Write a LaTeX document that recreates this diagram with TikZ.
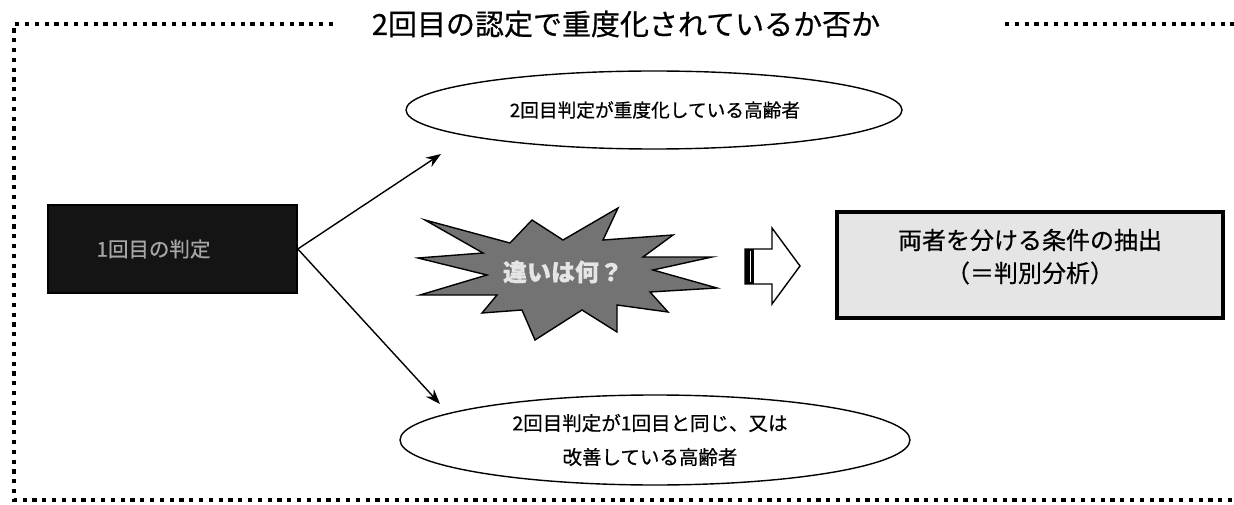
\documentclass[tikz,border=0pt]{standalone}
\usepackage{fontspec}
\newfontfamily\jp[FakeBold=0.6]{Noto Sans CJK JP}
\usetikzlibrary{shapes.geometric,arrows.meta}
\tikzset{
  frameline/.style={line width=4.2pt, dash pattern=on 4.2pt off 5.6pt},
  ellnode/.style={ellipse, draw, line width=1.4pt, fill=white, inner sep=0pt},
  conn/.style={line width=1.4pt, -{Stealth[length=15pt,width=11pt]}},
  txt/.style={font=\jp, inner sep=0pt, align=center}
}
\begin{document}
\begin{tikzpicture}[x=1pt,y=-1pt]
\useasboundingbox (0,0) rectangle (1234,505);
% dotted frame
\draw[frameline] (333,24) -- (14,24) -- (14,500) -- (1240,500);
\draw[frameline] (1005,24) -- (1240,24);
\node[txt, font=\jp\fontsize{29}{31}\selectfont] (title) at (626,24) {2回目の認定で重度化されているか否か};
% first judgement box
\node[draw=black, line width=1.6pt, fill=black!92, minimum width=249pt, minimum height=88pt, inner sep=0pt,
      text=black!35, font=\jp\fontsize{20.5}{22}\selectfont] (first) at (172.5,249) {\hspace*{-38pt}1回目の判定};
% ellipses
\node[ellnode, minimum width=496pt, minimum height=78pt] (upper) at (654,110) {};
\node[txt, font=\jp\fontsize{18.7}{20}\selectfont] (uppert) at (655,110) {2回目判定が重度化している高齢者};
\node[ellnode, minimum width=510pt, minimum height=90pt] (lower) at (655,440) {};
\node[txt, font=\jp\fontsize{19.5}{34}\selectfont] (lowert) at (650,440) {2回目判定が1回目と同じ、又は\\改善している高齢者};
% connectors
\coordinate (tipU) at (441,154);
\coordinate (tipL) at (440,404);
\draw[conn] (first.east) -- (tipU);
\draw[conn] (first.east) -- (tipL);
% starburst
\draw[line width=1.4pt, fill=black!55, line join=miter]
  (425,220) -- (510,243) -- (532,220) -- (563,240) -- (618,208) -- (603,240)
  -- (673,235) -- (643,257) -- (712,257) -- (653,270) -- (717,288) -- (650,292)
  -- (668,312) -- (617,305) -- (617,332) -- (582,310) -- (535,340) -- (522,310)
  -- (482,313) -- (497,295) -- (420,295) -- (487,275) -- (418,258) -- (483,253) -- cycle;
\node[txt, text=black!10, font=\jp\bfseries\fontsize{24}{26}\selectfont] (diff) at (563,272) {違いは何？};
% block arrow
\draw[line width=1.4pt, fill=white, line join=miter]
  (745,249) -- (772,249) -- (772,228) -- (800,266) -- (772,304) -- (772,284) -- (745,284) -- cycle;
\fill[black] (745,249) rectangle (754,284);
\draw[white, line width=1pt] (750,251) -- (750,282);
\coordinate (arr) at (772,266);
% result box
\node[draw=black, line width=4pt, fill=black!10, minimum width=386pt, minimum height=106pt, inner sep=0pt,
      txt, font=\jp\fontsize{24}{33}\selectfont] (result) at (1030,265) {両者を分ける条件の抽出\\（＝判別分析）\\[-14pt]};
\end{tikzpicture}
\end{document}
